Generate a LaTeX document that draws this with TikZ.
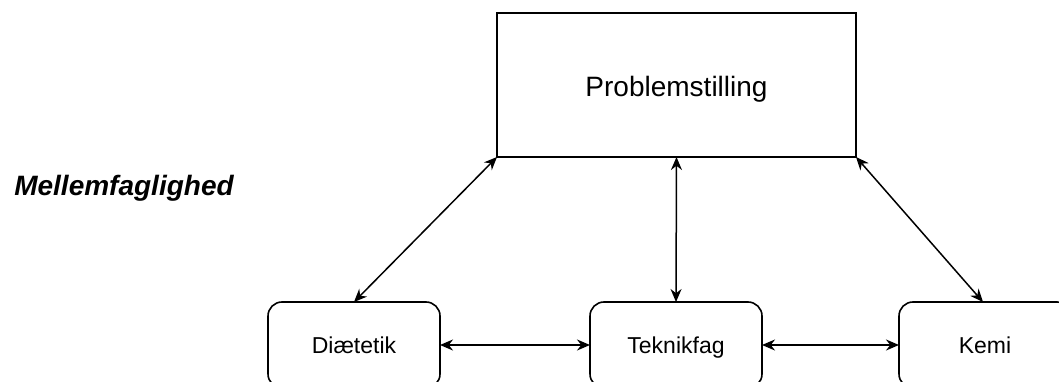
\documentclass[tikz,border=0pt]{standalone}
\usepackage{fontspec}
\setmainfont{Liberation Sans}
\usetikzlibrary{arrows.meta}
\begin{document}
\begin{tikzpicture}[x=1pt,y=-1pt,
  every node/.style={inner sep=0pt,outer sep=0pt},
  bigbox/.style={draw,line width=1.6pt,rectangle},
  subjbox/.style={draw,line width=1.6pt,rectangle,rounded corners=14pt},
  subjlabel/.style={anchor=base,font=\fontsize{23}{27}\selectfont},
  link/.style={line width=1.5pt,{Stealth[length=13pt,width=11pt]}-{Stealth[length=13pt,width=11pt]}}]
\useasboundingbox (0,0) rectangle (1059,382);
\clip (0,0) rectangle (1059,382);
\fill[white] (0,0) rectangle (1059,382);
% main problem box
\node (prob) [bigbox,minimum width=359pt,minimum height=144pt] at (676.5,85) {};
\node (probtxt) at (676.5,89) {\fontsize{28}{32}\selectfont Problemstilling};
% subject boxes
\node (dia) [subjbox,minimum width=172pt,minimum height=86pt] at (354,345) {};
\node (diatxt) [subjlabel] at (354,353.5) {Diætetik};
\node (tek) [subjbox,minimum width=172pt,minimum height=86pt] at (676,345) {};
\node (tektxt) [subjlabel] at (676,353.5) {Teknikfag};
\node (kem) [subjbox,minimum width=172pt,minimum height=86pt] at (985,345) {};
\node (kemtxt) [subjlabel] at (985,353.5) {Kemi};
% heading
\node (mel) at (124,188) {\fontsize{28}{32}\selectfont\bfseries\itshape Mellemfaglighed};
% connectors
\draw[link] (prob.south west) -- (dia.north);
\draw[link] (prob.south) -- (tek.north);
\draw[link] (prob.south east) -- ([xshift=-2pt]kem.north);
\draw[link] (dia.east) -- (tek.west);
\draw[link] (tek.east) -- (kem.west);
\end{tikzpicture}
\end{document}
